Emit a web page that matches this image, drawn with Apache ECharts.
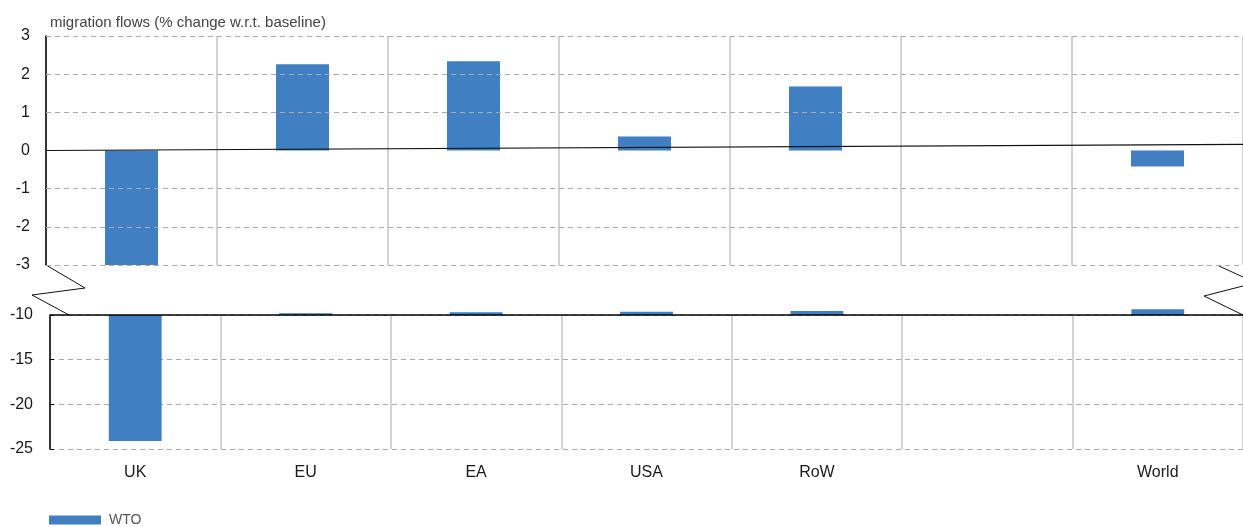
<!DOCTYPE html>
<html>
<head>
<meta charset="utf-8">
<script src="https://cdn.jsdelivr.net/npm/echarts@6/dist/echarts.min.js"></script>
<style>
    html, body { margin: 0; padding: 0; background: #fff; }
    #chart { width: 1243px; height: 527px; }
</style>
</head>
<body>
<div id="chart"></div>
<script>
const categories = ['UK', 'EU', 'EA', 'USA', 'RoW', '', 'World']
// WTO scenario, % change w.r.t. baseline
const wto = [-24.1, 2.26, 2.34, 0.37, 1.68, null, -0.42]
// what the lower (broken) part of the axis shows
const wtoLower = [-24.1, -9.81, -9.7, -9.63, -9.55, null, -9.37]
const upperGridValues = [3, 2, 1, -1, -2, -3]
const lowerTop = -10
// the slightly tilted zero line of the upper panel (start / end)
const zeroLine = [[0, 0], [1, 0.16]]

const barColor = '#3f7fc2'
const font = '"Liberation Sans", Arial, sans-serif'

const chart = echarts.init(document.getElementById('chart'), null, { renderer: 'canvas' })

chart.setOption({
    animation: false,
    title: {
        text: 'migration flows (% change w.r.t. baseline)',
        left: 45,
        top: 10,
        textStyle: { fontFamily: font, fontSize: 15, fontWeight: 'normal', color: '#444' }
    },
    legend: {
        left: 44,
        top: 508,
        icon: 'rect',
        itemWidth: 52,
        itemHeight: 9,
        itemGap: 8,
        data: ['WTO'],
        textStyle: { fontFamily: '"Liberation Sans Narrow", "Liberation Sans", sans-serif', fontSize: 14, color: '#555', padding: [0, 0, 0, 3] }
    },
    grid: [
        { left: 46, top: 36, right: -3, height: 229 },
        { left: 50, top: 315, right: 0, height: 134 }
    ],
    xAxis: [{
        type: 'category',
        gridIndex: 0,
        data: categories,
        axisLine: { show: false },
        axisTick: { show: false },
        axisLabel: { show: false },
        splitLine: { show: true, lineStyle: { color: '#c4c4c4', width: 1.5 } }
    }, {
        type: 'category',
        gridIndex: 1,
        data: categories,
        axisLine: { show: false },
        axisTick: { show: false },
        axisLabel: { margin: 16, fontFamily: font, fontSize: 16, color: '#1a1a1a' },
        splitLine: { show: true, lineStyle: { color: '#c4c4c4', width: 1.5 } }
    }, {
        type: 'value',
        gridIndex: 0,
        min: 0,
        max: 1,
        show: false
    }],
    yAxis: [{
        type: 'value',
        gridIndex: 0,
        min: -3,
        max: 3,
        interval: 1,
        axisLine: { show: true, lineStyle: { color: '#000', width: 1.5 } },
        axisTick: { show: true, inside: true, length: 4, lineStyle: { color: '#000' } },
        axisLabel: { margin: 16, fontFamily: font, fontSize: 16, color: '#1a1a1a' },
        splitLine: { show: false }
    }, {
        type: 'value',
        gridIndex: 1,
        min: -25,
        max: -10,
        interval: 5,
        startValue: lowerTop,
        axisLine: { show: true, lineStyle: { color: '#000', width: 1.5 } },
        axisTick: { show: true, inside: true, length: 4, lineStyle: { color: '#000' } },
        axisLabel: { margin: 17, fontFamily: font, fontSize: 16, color: '#1a1a1a' },
        splitLine: { show: true, lineStyle: { color: '#ababab', type: [5, 4], width: 1 } }
    }],
    series: [{
        name: 'WTO',
        type: 'bar',
        xAxisIndex: 0,
        yAxisIndex: 0,
        barWidth: '31%',
        data: wto,
        itemStyle: { color: barColor },
        markLine: {
            silent: true,
            symbol: 'none',
            label: { show: false },
            lineStyle: { color: '#ababab', type: [5, 4], width: 1 },
            data: upperGridValues.map(v => ({ yAxis: v }))
        },
        z: 3
    }, {
        name: 'WTO',
        type: 'bar',
        xAxisIndex: 1,
        yAxisIndex: 1,
        barWidth: '31%',
        clip: false,
        data: wtoLower,
        itemStyle: { color: barColor },
        markLine: {
            silent: true,
            symbol: 'none',
            label: { show: false },
            lineStyle: { color: '#000', type: 'solid', width: 1.5 },
            data: [{ yAxis: lowerTop }]
        },
        z: 3
    }, {
        name: 'zero',
        type: 'line',
        xAxisIndex: 2,
        yAxisIndex: 0,
        data: zeroLine,
        symbol: 'none',
        silent: true,
        lineStyle: { color: '#111', width: 1.2 },
        z: 5
    }],
    graphic: [{
        type: 'polyline',
        shape: { points: [[46, 265], [85, 288], [32, 295], [69, 315]] },
        style: { stroke: '#111', lineWidth: 1, fill: null }
    }, {
        type: 'polyline',
        shape: { points: [[1219, 266], [1243, 277]] },
        style: { stroke: '#111', lineWidth: 1, fill: null }
    }, {
        type: 'polyline',
        shape: { points: [[1243, 286], [1204, 296], [1243, 315]] },
        style: { stroke: '#111', lineWidth: 1, fill: null }
    }]
})
</script>
</body>
</html>
